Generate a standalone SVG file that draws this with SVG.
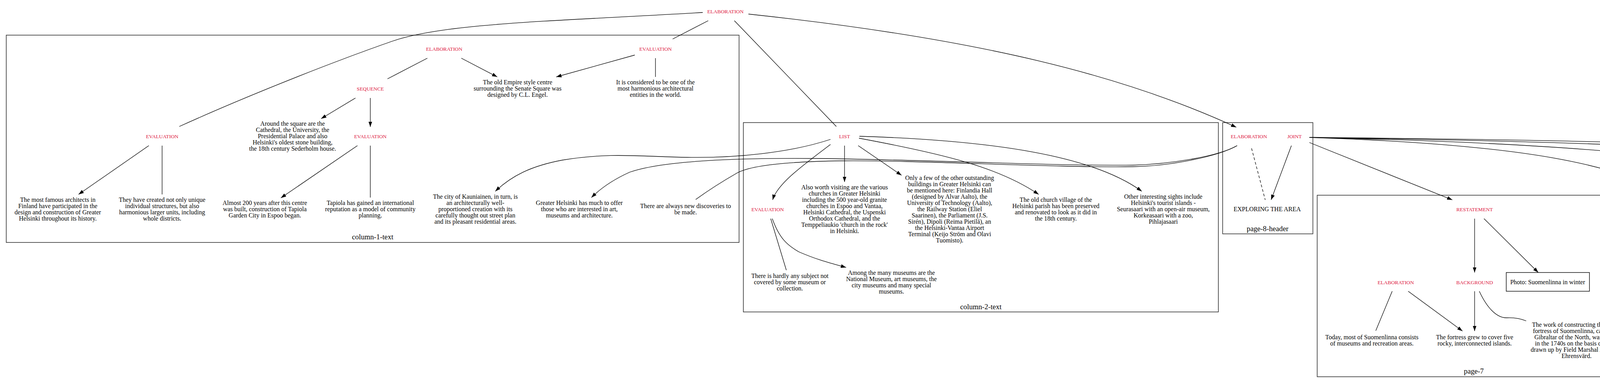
<svg xmlns="http://www.w3.org/2000/svg" width="6001" height="981" viewBox="0 0 6001 981">
<defs>
<style>
.rel{font-family:"Liberation Serif","Times New Roman",serif;font-size:13.3px;fill:#dc143c;text-anchor:middle}
.txt{font-family:"Liberation Serif","Times New Roman",serif;font-size:16px;fill:#000;text-anchor:middle}
.clab{font-family:"Liberation Serif","Times New Roman",serif;font-size:18.7px;fill:#000;text-anchor:middle}
.clu{fill:none;stroke:#333;stroke-width:1.6}
.box{fill:#fff;stroke:#000;stroke-width:1.4}
.e{fill:none;stroke:#000;stroke-width:1.3}
.a{fill:none;stroke:#000;stroke-width:1.3;marker-end:url(#ah)}
.d{fill:none;stroke:#000;stroke-width:1.3;stroke-dasharray:7,5}
</style>
<marker id="ah" markerUnits="userSpaceOnUse" markerWidth="14" markerHeight="10" viewBox="0 0 14 10" refX="13.5" refY="5" orient="auto">
<path d="M0,0.3 L13.5,5 L0,9.7 z" fill="#000"/>
</marker>
</defs>
<rect width="6001" height="981" fill="#fff"/>

<g id="clusters">
<g id="cluster-column-1-text"><rect class="clu" x="16" y="90" width="1876" height="531"/><text class="clab" x="954" y="613">column-1-text</text></g>
<g id="cluster-column-2-text"><rect class="clu" x="1903" y="314" width="1216" height="485"/><text class="clab" x="2511" y="792">column-2-text</text></g>
<g id="cluster-page-8-header"><rect class="clu" x="3130" y="314" width="231" height="285"/><text class="clab" x="3245" y="592">page-8-header</text></g>
<g id="cluster-page-7"><rect class="clu" x="3372" y="500" width="803" height="465"/><text class="clab" x="3773" y="957">page-7</text></g>
<g id="cluster-page-8-column-1-photo"><rect class="clu" x="4186" y="500" width="399" height="308"/><text class="clab" x="4385" y="799">page-8-column-1-photo</text></g>
<g id="cluster-page-8-column-2-photo"><rect class="clu" x="4596" y="500" width="534" height="441"/><text class="clab" x="4863" y="932">page-8-column-2-photo</text></g>
<g id="cluster-column-2-photo"><rect class="clu" x="5140" y="500" width="552" height="435"/><text class="clab" x="5416" y="928">column-2-photo</text></g>
<g id="cluster-page-8-column-1"><rect class="clu" x="5702" y="500" width="283" height="99"/><text class="clab" x="5843" y="591">page-8-column-1</text></g>
</g>

<g id="connectors">
<path class="e" d="M1799,32 C1400,55 1130,60 1000,107 C820,170 600,260 459,324"/>
<path class="e" d="M1813,53 L1722,100"/>
<path class="e" d="M1880,53 L2141,324"/>
<path class="a" d="M1916,36 C2516,100 2880,195 3165,326"/>
<path class="e" d="M1094,149 L992,202"/>
<path class="a" d="M1181,149 L1273,197"/>
<path class="a" d="M1625,141 L1424,197"/>
<path class="e" d="M1678,149 L1678,197"/>
<path class="a" d="M910,251 L822,304"/>
<path class="a" d="M948,251 L948,325"/>
<path class="a" d="M381,373 L201,498"/>
<path class="e" d="M415,373 L415,498"/>
<path class="a" d="M915,373 L719,507"/>
<path class="e" d="M948,373 L948,506"/>
<path class="a" d="M2126,357 C2020,392 1880,405 1760,403 C1640,401 1560,390 1440,410 C1360,425 1310,450 1268,490"/>
<path class="a" d="M3167,373 C3120,400 3000,420 2900,423 C2700,425 2400,410 2100,406 C1900,404 1700,410 1612,441 C1570,460 1540,480 1514,506"/>
<path class="e" d="M3167,373 C3120,400 3000,425 2900,427 C2700,430 2350,410 2155,412 C2000,414 1920,425 1887,443 C1840,470 1810,490 1781,511"/>
<path class="d" d="M3204,380 L3239,512"/>
<path class="a" d="M3306,373 L3254,512"/>
<path class="a" d="M2126,370 C2060,420 1990,470 1978,512"/>
<path class="a" d="M2162,373 L2162,466"/>
<path class="a" d="M2197,373 L2308,449"/>
<path class="a" d="M2199,354 C2420,395 2560,430 2659,498"/>
<path class="a" d="M2200,349 C2550,360 2800,400 2923,490"/>
<path class="e" d="M1973,560 L2013,692"/>
<path class="a" d="M1977,560 C1995,610 2015,628 2045,645 C2090,665 2130,675 2166,685"/>
<path class="a" d="M3352,365 L3718,512"/>
<path class="a" d="M3352,352 C3900,370 4150,420 4291,511"/>
<path class="a" d="M3352,352 C4052,367 4561,409 4701,511"/>
<path class="a" d="M3352,352 C4200,365 5048,391 5248,511"/>
<path class="a" d="M3352,352 C4500,362 5614,401 5814,511"/>
<path class="a" d="M3775,560 L3775,698"/>
<path class="a" d="M3799,560 L3938,698"/>
<path class="e" d="M3564,746 L3522,847"/>
<path class="a" d="M3605,746 L3744,848"/>
<path class="a" d="M3775,746 L3775,848"/>
<path class="e" d="M3787,746 C3805,785 3830,815 3858,814 C3880,813 3895,817 3907,822"/>
<path class="a" d="M4315,560 L4315,677"/>
<path class="a" d="M4341,560 L4493,698"/>
<path class="a" d="M4726,560 L4726,698"/>
<path class="a" d="M4745,560 L4855,698"/>
<path class="e" d="M4726,746 L4726,847"/>
<path class="a" d="M4740,746 C4760,795 4790,818 4827,815 C4860,812 4895,825 4929,842"/>
<path class="a" d="M5274,560 L5274,698"/>
<path class="a" d="M5298,560 L5436,698"/>
<path class="e" d="M5274,746 L5274,847"/>
<path class="a" d="M5287,746 C5305,795 5335,818 5365,815 C5410,812 5455,825 5498,848"/>
</g>

<g id="r1"><text class="rel" x="1857" y="33.5">ELABORATION</text></g>
<g id="r2"><text class="rel" x="1137" y="129.5">ELABORATION</text></g>
<g id="r3"><text class="rel" x="1678" y="129.5">EVALUATION</text></g>
<g id="r4"><text class="rel" x="948" y="231.5">SEQUENCE</text></g>
<g id="r5"><text class="rel" x="415" y="353.5">EVALUATION</text></g>
<g id="r6"><text class="rel" x="948" y="353.5">EVALUATION</text></g>
<g id="r7"><text class="rel" x="2162" y="353.5">LIST</text></g>
<g id="r8"><text class="rel" x="1965" y="540.5">EVALUATION</text></g>
<g id="r9"><text class="rel" x="3197" y="353.5">ELABORATION</text></g>
<g id="r10"><text class="rel" x="3314" y="353.5">JOINT</text></g>
<g id="r11"><text class="rel" x="3775" y="540.5">RESTATEMENT</text></g>
<g id="r12"><text class="rel" x="3573" y="727.5">ELABORATION</text></g>
<g id="r13"><text class="rel" x="3775" y="727.5">BACKGROUND</text></g>
<g id="r14"><text class="rel" x="4315" y="540.5">RESTATEMENT</text></g>
<g id="r15"><text class="rel" x="4726" y="540.5">RESTATEMENT</text></g>
<g id="r16"><text class="rel" x="4726" y="727.5">ELABORATION</text></g>
<g id="r17"><text class="rel" x="5274" y="540.5">RESTATEMENT</text></g>
<g id="r18"><text class="rel" x="5274" y="727.5">ELABORATION</text></g>

<g id="t1"><text class="txt" x="749" y="322"><tspan x="749">Around the square are the</tspan><tspan x="749" dy="16">Cathedral, the University, the</tspan><tspan x="749" dy="16">Presidential Palace and also</tspan><tspan x="749" dy="16">Helsinki's oldest stone building,</tspan><tspan x="749" dy="16">the 18th century Sederholm house.</tspan></text></g>
<g id="t2"><text class="txt" x="148" y="517"><tspan x="148">The most famous architects in</tspan><tspan x="148" dy="16">Finland have participated in the</tspan><tspan x="148" dy="16">design and construction of Greater</tspan><tspan x="148" dy="16">Helsinki throughout its history.</tspan></text></g>
<g id="t3"><text class="txt" x="415" y="517"><tspan x="415">They have created not only unique</tspan><tspan x="415" dy="16">individual structures, but also</tspan><tspan x="415" dy="16">harmonious larger units, including</tspan><tspan x="415" dy="16">whole districts.</tspan></text></g>
<g id="t4"><text class="txt" x="678" y="525"><tspan x="678">Almost 200 years after this centre</tspan><tspan x="678" dy="16">was built, construction of Tapiola</tspan><tspan x="678" dy="16">Garden City in Espoo began.</tspan></text></g>
<g id="t5"><text class="txt" x="948" y="525"><tspan x="948">Tapiola has gained an international</tspan><tspan x="948" dy="16">reputation as a model of community</tspan><tspan x="948" dy="16">planning.</tspan></text></g>
<g id="t6"><text class="txt" x="1325" y="216"><tspan x="1325">The old Empire style centre</tspan><tspan x="1325" dy="16">surrounding the Senate Square was</tspan><tspan x="1325" dy="16">designed by C.L. Engel.</tspan></text></g>
<g id="t7"><text class="txt" x="1678" y="216"><tspan x="1678">It is considered to be one of the</tspan><tspan x="1678" dy="16">most harmonious architectural</tspan><tspan x="1678" dy="16">entities in the world.</tspan></text></g>
<g id="t8"><text class="txt" x="1217" y="509"><tspan x="1217">The city of Kauniainen, in turn, is</tspan><tspan x="1217" dy="16">an architecturally well-</tspan><tspan x="1217" dy="16">proportioned creation with its</tspan><tspan x="1217" dy="16">carefully thought out street plan</tspan><tspan x="1217" dy="16">and its pleasant residential areas.</tspan></text></g>
<g id="t9"><text class="txt" x="1483" y="525"><tspan x="1483">Greater Helsinki has much to offer</tspan><tspan x="1483" dy="16">those who are interested in art,</tspan><tspan x="1483" dy="16">museums and architecture.</tspan></text></g>
<g id="t10"><text class="txt" x="1755" y="533"><tspan x="1755">There are always new discoveries to</tspan><tspan x="1755" dy="16">be made.</tspan></text></g>
<g id="t11"><text class="txt" x="2162" y="485"><tspan x="2162">Also worth visiting are the various</tspan><tspan x="2162" dy="16">churches in Greater Helsinki</tspan><tspan x="2162" dy="16">including the 500 year-old granite</tspan><tspan x="2162" dy="16">churches in Espoo and Vantaa,</tspan><tspan x="2162" dy="16">Helsinki Cathedral, the Uspenski</tspan><tspan x="2162" dy="16">Orthodox Cathedral, and the</tspan><tspan x="2162" dy="16">Temppeliaukio 'church in the rock'</tspan><tspan x="2162" dy="16">in Helsinki.</tspan></text></g>
<g id="t12"><text class="txt" x="2431" y="461"><tspan x="2431">Only a few of the other outstanding</tspan><tspan x="2431" dy="16">buildings in Greater Helsinki can</tspan><tspan x="2431" dy="16">be mentioned here: Finlandia Hall</tspan><tspan x="2431" dy="16">(designed by Alvar Aalto), the</tspan><tspan x="2431" dy="16">University of Technology (Aalto),</tspan><tspan x="2431" dy="16">the Railway Station (Eliel</tspan><tspan x="2431" dy="16">Saarinen), the Parliament (J.S.</tspan><tspan x="2431" dy="16">Sirén), Dipoli (Reima Pietilä), an</tspan><tspan x="2431" dy="16">the Helsinki-Vantaa Airport</tspan><tspan x="2431" dy="16">Terminal (Keijo Ström and Olavi</tspan><tspan x="2431" dy="16">Tuomisto).</tspan></text></g>
<g id="t13"><text class="txt" x="2703" y="517"><tspan x="2703">The old church village of the</tspan><tspan x="2703" dy="16">Helsinki parish has been preserved</tspan><tspan x="2703" dy="16">and renovated to look as it did in</tspan><tspan x="2703" dy="16">the 18th century.</tspan></text></g>
<g id="t14"><text class="txt" x="2978" y="509"><tspan x="2978">Other interesting sights include</tspan><tspan x="2978" dy="16">Helsinki's tourist islands -</tspan><tspan x="2978" dy="16">Seurasaari with an open-air museum,</tspan><tspan x="2978" dy="16">Korkeasaari with a zoo,</tspan><tspan x="2978" dy="16">Pihlajasaari</tspan></text></g>
<g id="t15"><text class="txt" x="2022" y="712"><tspan x="2022">There is hardly any subject not</tspan><tspan x="2022" dy="16">covered by some museum or</tspan><tspan x="2022" dy="16">collection.</tspan></text></g>
<g id="t16"><text class="txt" x="2282" y="704"><tspan x="2282">Among the many museums are the</tspan><tspan x="2282" dy="16">National Museum, art museums, the</tspan><tspan x="2282" dy="16">city museums and many special</tspan><tspan x="2282" dy="16">museums.</tspan></text></g>
<g id="t17"><text class="txt" x="3244" y="541">EXPLORING THE AREA</text></g>
<g id="t18"><text class="txt" x="3512" y="869"><tspan x="3512">Today, most of Suomenlinna consists</tspan><tspan x="3512" dy="16">of museums and recreation areas.</tspan></text></g>
<g id="t19"><text class="txt" x="3775" y="869"><tspan x="3775">The fortress grew to cover five</tspan><tspan x="3775" dy="16">rocky, interconnected islands.</tspan></text></g>
<g id="t20"><text class="txt" x="4036" y="837"><tspan x="4036">The work of constructing the island</tspan><tspan x="4036" dy="16">fortress of Suomenlinna, called the</tspan><tspan x="4036" dy="16">Gibraltar of the North, was begun</tspan><tspan x="4036" dy="16">in the 1740s on the basis of plans</tspan><tspan x="4036" dy="16">drawn up by Field Marshal Augustin</tspan><tspan x="4036" dy="16">Ehrensvärd.</tspan></text></g>
<g id="t21"><text class="txt" x="4315" y="696"><tspan x="4315">Built in the middle of the</tspan><tspan x="4315" dy="16">countryside and designed to</tspan><tspan x="4315" dy="16">preserve the environment, Tapiola</tspan><tspan x="4315" dy="16">is recognized as one of the model</tspan><tspan x="4315" dy="16">examples of community planning.</tspan></text></g>
<g id="t22"><text class="txt" x="4726" y="869"><tspan x="4726">Tarvaspää is now a museum and a</tspan><tspan x="4726" dy="16">café.</tspan></text></g>
<g id="t23"><text class="txt" x="4994" y="861"><tspan x="4994">Tarvaspää in Espoo, the early 20th-</tspan><tspan x="4994" dy="16">century studio-home of the artist</tspan><tspan x="4994" dy="16">Akseli Gallen-Kallela.</tspan></text></g>
<g id="t24"><text class="txt" x="5274" y="869"><tspan x="5274">The building was designed by Eliel</tspan><tspan x="5274" dy="16">Saarinen and completed in 1916.</tspan></text></g>
<g id="t25"><text class="txt" x="5552" y="869"><tspan x="5552">The clock tower of Helsinki Railway</tspan><tspan x="5552" dy="16">Station.</tspan></text></g>

<g id="b1"><rect class="box" x="3856" y="698" width="213" height="48"/><text class="txt" x="3962" y="728">Photo: Suomenlinna in winter</text></g>
<g id="b2"><rect class="box" x="4460" y="698" width="115" height="48"/><text class="txt" x="4517" y="728">Photo: Tapiola</text></g>
<g id="b3"><rect class="box" x="4808" y="698" width="131" height="48"/><text class="txt" x="4873" y="728">Photo: Tarvaspää</text></g>
<g id="b4"><rect class="box" x="5356" y="698" width="207" height="48"/><text class="txt" x="5460" y="728">Photo: Railway station tower</text></g>
<g id="b5"><rect class="box" x="5712" y="511" width="263" height="48"/><text class="txt" x="5843" y="540">Photo: Architectural detail (Kullervo)</text></g>
</svg>
